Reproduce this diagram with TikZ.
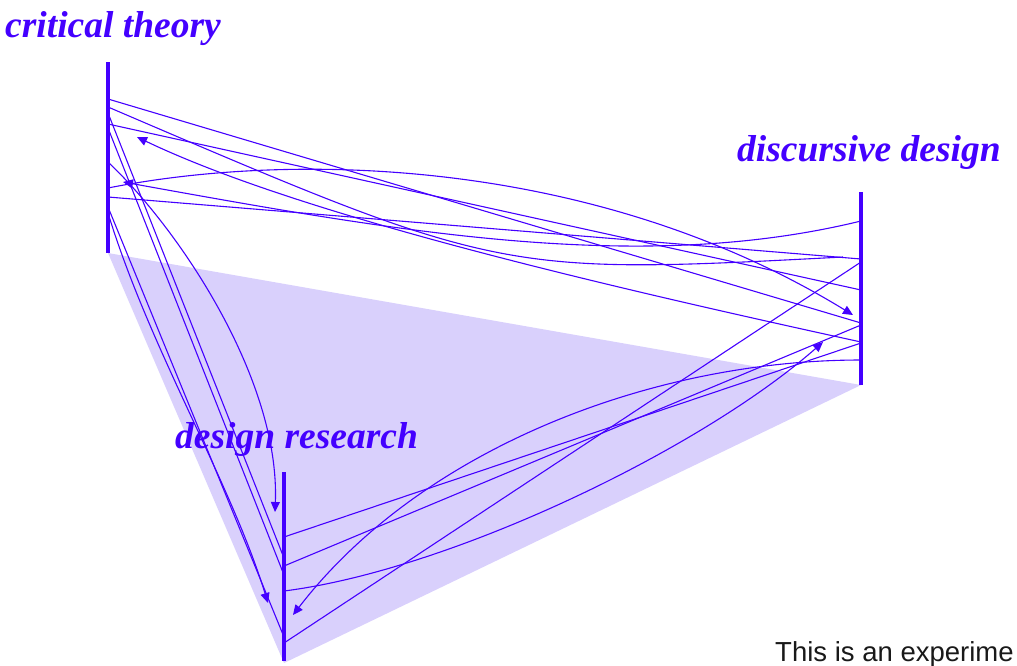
\documentclass[tikz,border=0pt]{standalone}
\usepackage{fontspec}
\setsansfont{Liberation Sans}
\newfontfamily\labfont{Liberation Serif}
\usetikzlibrary{arrows.meta}
\definecolor{ink}{RGB}{68,0,255}
\definecolor{fillc}{RGB}{217,208,252}
\definecolor{foot}{RGB}{25,25,25}
\begin{document}
\begin{tikzpicture}[x=1pt,y=-1pt,
  link/.style={draw=ink, line width=1.1pt},
  arr/.style={link, -{Triangle[length=10pt,width=9pt]}},
  axisline/.style={draw=ink, line width=4pt},
  lab/.style={text=ink, font=\labfont\fontsize{37.5}{37.5}\selectfont\bfseries\itshape, anchor=base west, inner sep=0pt},
  footlab/.style={text=foot, font=\sffamily\fontsize{27.5}{27.5}\selectfont, anchor=base west, inner sep=0pt}]
\useasboundingbox (0,0) rectangle (1017,665);
% axes ends
\coordinate (ctT) at (108,62);  \coordinate (ctB) at (108,253);
\coordinate (ddT) at (861,192); \coordinate (ddB) at (861,385);
\coordinate (drT) at (284,472); \coordinate (drB) at (284,661);
% background triangle
\fill[fillc] (ctB) -- (ddB) -- (284,663) -- cycle;
% endpoints on critical theory
\coordinate (c99) at (108,99);  \coordinate (c107) at (108,107);
\coordinate (c113) at (108,113); \coordinate (c124) at (108,124);
\coordinate (c128) at (108,128); \coordinate (c162) at (108,162);
\coordinate (c188) at (108,188); \coordinate (c197) at (108,197);
\coordinate (c207) at (108,207); \coordinate (c213) at (108,213);
\coordinate (cA1) at (137,137); \coordinate (cA2) at (123,182);
% endpoints on discursive design
\coordinate (d221) at (861,221); \coordinate (d257) at (843,257);
\coordinate (d259) at (861,259); \coordinate (d262) at (861,262);
\coordinate (d290) at (861,290); \coordinate (d323) at (861,323);
\coordinate (d325) at (861,325); \coordinate (d342) at (861,342);
\coordinate (d343) at (861,343); \coordinate (d360) at (861,360);
\coordinate (dA1) at (853,315); \coordinate (dA2) at (823,342);
% endpoints on design research
\coordinate (r537) at (284,537); \coordinate (r558) at (284,558);
\coordinate (r566) at (284,566); \coordinate (r575) at (284,575);
\coordinate (r591) at (284,591); \coordinate (r637) at (284,637);
\coordinate (r643) at (284,643);
\coordinate (rA1) at (275,512); \coordinate (rA2) at (268,603); \coordinate (rA3) at (293,615);
% critical theory -- discursive design
\draw[link] (c99) -- (d323);
\draw[link] (c124) -- (d290);
\draw[link] (c107) .. controls (500,275) .. (d257);
\draw[link] (c197) -- (d259);
\draw[arr] (d221) .. controls (640,275) and (400,232) .. (cA2);
\draw[arr] (d342) .. controls (600,285) and (300,215) .. (cA1);
\draw[arr] (c188) .. controls (300,150) and (600,160) .. (dA1);
% critical theory -- design research
\draw[link] (c113) -- (r558);
\draw[link] (c128) -- (r575);
\draw[link] (c207) -- (r637);
\draw[arr] (c213) .. controls (150,350) and (230,480) .. (rA2);
\draw[arr] (c162) .. controls (180,230) and (280,380) .. (rA1);
% design research -- discursive design
\draw[link] (r643) -- (d262);
\draw[link] (r537) -- (d343);
\draw[link] (r566) -- (d325);
\draw[arr] (r591) .. controls (450,570) and (700,450) .. (dA2);
\draw[arr] (d360) .. controls (650,360) and (420,450) .. (rA3);
% axes
\draw[axisline] (ctT) -- (ctB);
\draw[axisline] (ddT) -- (ddB);
\draw[axisline] (drT) -- (drB);
% labels
\node[lab] (lct) at (5,37) {critical theory};
\node[lab] (ldd) at (737,161) {discursive design};
\node[lab] (ldr) at (175,448) {design research};
\node[footlab] (foot) at (775,661) {This is an experime};
\end{tikzpicture}
\end{document}
